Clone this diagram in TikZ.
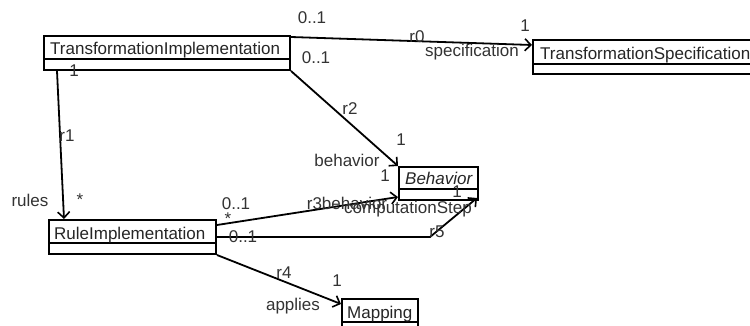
\documentclass[tikz,border=0pt]{standalone}
\usepackage{fontspec}
\setmainfont{Liberation Sans}
\usetikzlibrary{arrows.meta}
\tikzset{
  cls/.style={draw=black, line width=2pt, rectangle, inner sep=0pt, anchor=north west},
  nm/.style={anchor=base west, inner sep=0pt, text=black!85},
  lbl/.style={anchor=base, inner sep=0pt, text=black!80},
  assoc/.style={line width=1.8pt, -{Straight Barb[length=6pt,width=12pt,line width=1.6pt]}},
  plainassoc/.style={line width=1.8pt}
}
\begin{document}
\begin{tikzpicture}[x=1pt,y=-1pt,font=\fontsize{17}{20}\selectfont]
\clip (0,0) rectangle (750,326);
\fill[white] (0,0) rectangle (750,326);
% classes
\node[cls, minimum width=246pt, minimum height=34pt] (ti) at (43,35) {};
\draw[line width=2pt] ([yshift=-24pt]ti.north west) -- ([yshift=-24pt]ti.north east);
\node[nm] (tiname) at (50,55) {TransformationImplementation};

\node[cls, minimum width=240pt, minimum height=34pt] (ts) at (532,39) {};
\draw[line width=2pt] ([yshift=-25pt]ts.north west) -- ([yshift=-25pt]ts.north east);
\node[nm] (tsname) at (540,60) {TransformationSpecification};

\node[cls, minimum width=167pt, minimum height=34pt] (ri) at (48,219) {};
\draw[line width=2pt] ([yshift=-24pt]ri.north west) -- ([yshift=-24pt]ri.north east);
\node[nm] (riname) at (54,239) {RuleImplementation};

\node[cls, minimum width=79pt, minimum height=33pt] (bh) at (398,166) {};
\draw[line width=2pt] ([yshift=-23pt]bh.north west) -- ([yshift=-23pt]bh.north east);
\node[nm] (bhname) at (405,185) {\itshape Behavior};

\node[cls, minimum width=76pt, minimum height=34pt] (mp) at (341,298) {};
\draw[line width=2pt] ([yshift=-24pt]mp.north west) -- ([yshift=-24pt]mp.north east);
\node[nm] (mpname) at (347,318) {Mapping};

% connectors
\draw[assoc] ([yshift=-2pt]ti.north east) -- ([yshift=-6pt]ts.north west);
\draw[assoc] ([xshift=14pt]ti.south west) -- ([xshift=16pt]ri.north west);
\draw[assoc] (ti.south east) -- (bh.north west);
\draw[assoc] ([yshift=-6pt]ri.north east) -- ([yshift=4pt]bh.south west);
\coordinate (r5bend) at (430,237);
\draw[assoc] ([yshift=-18pt]ri.north east) -- (r5bend) -- ([shift={(-2pt,3pt)}]bh.south east);
\draw[assoc] (ri.south east) -- ([yshift=-6pt]mp.north west);

% labels
\node[lbl] (l1) at (312,24) {0..1};
\node[lbl] (l2) at (316,64) {0..1};
\node[lbl] (l3) at (74,77) {1};
\node[lbl] (l4) at (350,115) {r2};
\node[lbl] (l5) at (417,43) {r0};
\node[lbl] (l6) at (472,57) {specification};
\node[lbl] (l7) at (525,32) {1};
\node[lbl] (l8) at (67,142) {r1};
\node[lbl] (l9) at (30,206) {rules};
\node[lbl] (l10) at (80,205) {*};
\node[lbl] (l11) at (236,210) {0..1};
\node[lbl] (l12) at (228,224) {*};
\node[lbl] (l13) at (243,242) {0..1};
\node[lbl] (l14) at (284,278) {r4};
\node[lbl] (l15) at (337,286) {1};
\node[lbl] (l16) at (293,310) {applies};
\node[lbl] (l17) at (347,167) {behavior};
\node[lbl] (l18) at (347,209) {r3behavior};
\node[lbl] (l19) at (408,214) {computationStep};
\node[lbl] (l20) at (401,146) {1};
\node[lbl] (l21) at (385,182) {1};
\node[lbl] (l22) at (457,197) {1};
\node[lbl] (l23) at (437,237) {r5};
\end{tikzpicture}
\end{document}
